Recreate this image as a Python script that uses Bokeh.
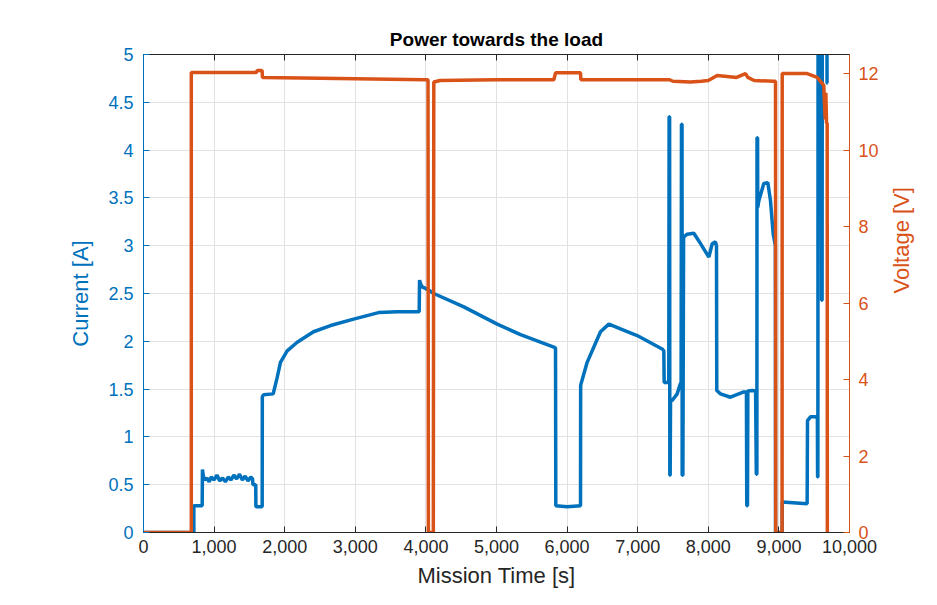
import math
from bokeh.plotting import figure
from bokeh.models import Range1d, LinearAxis, NumeralTickFormatter, FixedTicker
from bokeh.embed import file_html
from bokeh.resources import INLINE

# ---- data ----
time_current = [0, 713, 713, 831, 835, 850, 870, 900, 930, 960, 1000, 1040, 1080, 1120, 1160,
                1200, 1240, 1280, 1320, 1360, 1400, 1440, 1480, 1520, 1545, 1550, 1590, 1592,
                1681, 1683, 1700, 1837, 1893, 1940, 2035, 2177, 2408, 2649, 2989, 3329, 3600,
                3905, 3910, 3925, 3947, 4030, 4112, 4537, 5010, 5340, 5812, 5836, 5840, 6000,
                6190, 6192, 6284, 6473, 6591, 6756, 6992, 7346, 7370, 7375, 7440, 7445, 7452,
                7455, 7460, 7465, 7488, 7559, 7606, 7615, 7620, 7628, 7630, 7640, 7650, 7701,
                7795, 7866, 8008, 8055, 8102, 8116, 8120, 8173, 8314, 8503, 8540, 8545, 8555,
                8560, 8621, 8670, 8680, 8688, 8690, 8698, 8700, 8716, 8786, 8843, 8881, 8919,
                8950, 8952, 9047, 9047, 9400, 9405, 9448, 9518, 9545, 9548, 9552, 9555, 9600,
                9605, 9612, 9615, 9680, 9682, 9690]
current_a = [0, 0, 0.28, 0.28, 0.66, 0.58, 0.55, 0.57, 0.53, 0.58, 0.55, 0.60, 0.54, 0.57, 0.53,
             0.58, 0.55, 0.60, 0.56, 0.61, 0.55, 0.59, 0.54, 0.58, 0.56, 0.50, 0.50, 0.27,
             0.27, 1.42, 1.44, 1.45, 1.62, 1.78, 1.90, 1.99, 2.10, 2.165, 2.235, 2.30, 2.31,
             2.31, 2.64, 2.60, 2.57, 2.54, 2.50, 2.36, 2.18, 2.07, 1.94, 1.93, 0.28, 0.27,
             0.28, 1.54, 1.78, 2.10, 2.18, 2.13, 2.06, 1.92, 1.90, 1.57, 1.57, 4.35, 4.35,
             0.60, 0.60, 1.38, 1.38, 1.45, 1.56, 1.56, 4.27, 4.27, 0.60, 0.60, 3.09, 3.12,
             3.13, 3.05, 2.88, 3.02, 3.04, 3.00, 1.485, 1.45, 1.415, 1.47, 1.47, 0.28, 0.28,
             1.48, 1.485, 1.48, 0.61, 0.61, 4.13, 4.13, 3.40, 3.47, 3.65, 3.66, 3.47, 3.12,
             3.00, 0.0, 0.0, 0.32, 0.30, 1.17, 1.21, 1.21, 1.20, 0.58, 0.58, 5.5, 5.5,
             2.43, 2.43, 5.5, 5.5, 4.70, 4.70]

time_voltage = [0, 677, 677, 1600, 1610, 1680, 1685, 2500, 3990, 4030, 4035, 4105, 4112, 4200,
                5000, 5812, 5836, 6190, 6195, 7000, 7450, 7500, 7748, 7900, 8000, 8126, 8400,
                8527, 8560, 8650, 8928, 8952, 8955, 9045, 9047, 9400, 9542, 9636, 9655, 9665,
                9675, 9684, 9686]
voltage_v = [0, 0, 12.03, 12.03, 12.08, 12.08, 11.90, 11.88, 11.84, 11.84, 0, 0, 11.78, 11.82,
             11.84, 11.84, 12.02, 12.02, 11.84, 11.84, 11.84, 11.80, 11.78, 11.80, 11.82, 11.95,
             11.90, 12.00, 11.90, 11.82, 11.80, 11.80, 0, 0, 12.00, 12.00, 11.90, 11.69, 10.8,
             11.5, 10.7, 10.7, 0]

x_ticks = [0, 1000, 2000, 3000, 4000, 5000, 6000, 7000, 8000, 9000, 10000]
current_ticks = [0, 0.5, 1, 1.5, 2, 2.5, 3, 3.5, 4, 4.5, 5]
voltage_ticks = [0, 2, 4, 6, 8, 10, 12]

BLUE = "#0072BD"
ORANGE = "#D95319"
DARK = "#262626"
FONT = "Liberation Sans"

p = figure(width=929, height=597, output_backend="svg", toolbar_location=None,
           x_range=Range1d(0, 10000), y_range=Range1d(0, 5),
           min_border_left=143, min_border_right=80, min_border_top=54, min_border_bottom=65,
           title="Power towards the load")
p.background_fill_color = "white"
p.border_fill_color = "white"
p.outline_line_color = DARK
p.outline_line_width = 1

p.title.align = "center"
p.title.text_font = FONT
p.title.text_font_size = "19px"
p.title.text_font_style = "bold"
p.title.text_color = "black"
p.title.standoff = 9

p.extra_y_ranges = {"volt": Range1d(0, 12.5)}

# grids
p.xgrid.ticker = FixedTicker(ticks=x_ticks)
p.ygrid.ticker = FixedTicker(ticks=current_ticks)
for g in (p.xgrid, p.ygrid):
    g.grid_line_color = "#e2e2e2"
    g.grid_line_width = 1

# bottom axis
xa = p.xaxis[0]
xa.ticker = FixedTicker(ticks=x_ticks)
xa.formatter = NumeralTickFormatter(format="0,0")
xa.axis_label = "Mission Time [s]"

# left axis
ya = p.yaxis[0]
ya.ticker = FixedTicker(ticks=current_ticks)
ya.formatter = NumeralTickFormatter(format="0.[0]")
ya.axis_label = "Current [A]"

# right axis
ra = LinearAxis(y_range_name="volt", ticker=FixedTicker(ticks=voltage_ticks),
                axis_label="Voltage [V]")
ra.axis_label_orientation = math.pi / 2
p.add_layout(ra, "right")

# top box axis (ticks only)
ta = LinearAxis(ticker=FixedTicker(ticks=x_ticks), major_label_text_font_size="0px")
p.add_layout(ta, "above")

for ax, col in ((xa, DARK), (ya, BLUE), (ra, ORANGE), (ta, DARK)):
    ax.axis_line_color = col
    ax.major_tick_line_color = col
    ax.minor_tick_line_color = None
    ax.major_tick_in = 6
    ax.major_tick_out = 0
    ax.major_label_text_color = col
    ax.major_label_text_font = FONT
    ax.axis_label_text_color = col
    ax.axis_label_text_font = FONT
    ax.axis_label_text_font_style = "normal"
for ax in (xa, ya, ra):
    ax.major_label_text_font_size = "18px"
    ax.axis_label_text_font_size = "22px"
ya.major_label_standoff = 10
ra.major_label_standoff = 9
xa.major_label_standoff = 7
xa.axis_label_standoff = 7
ya.axis_label_standoff = 12
ra.axis_label_standoff = 20
ta.axis_label_text_font_size = "0px"
ta.major_label_standoff = 0

p.line(time_current, current_a, line_color=BLUE, line_width=3.5)
p.line(time_voltage, voltage_v, line_color=ORANGE, line_width=3.5, y_range_name="volt")

open("out.html", "w").write(file_html(p, INLINE))
